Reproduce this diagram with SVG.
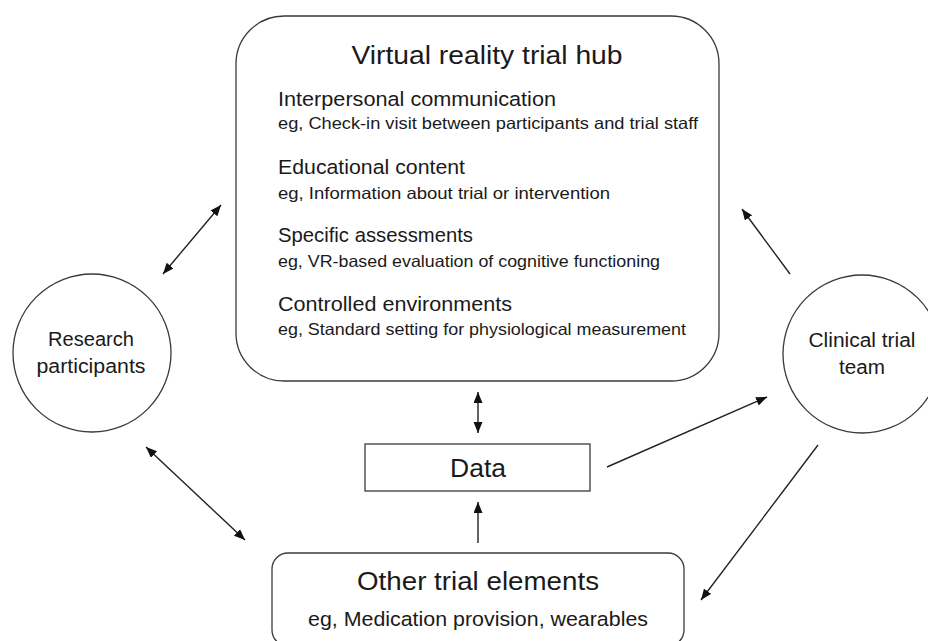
<svg xmlns="http://www.w3.org/2000/svg" width="928" height="641" viewBox="0 0 928 641">
<defs>
<marker id="ah" markerUnits="userSpaceOnUse" markerWidth="12" markerHeight="10" refX="11" refY="4.5" orient="auto-start-reverse">
<path d="M0,0 L11,4.5 L0,9 z" fill="#111"/>
</marker>
<style>
.shape{fill:#fff;stroke:#3a3a3a;stroke-width:1.3}
.conn{stroke:#222;stroke-width:1.4;fill:none}
text{font-family:"Liberation Sans",Arial,sans-serif;fill:#1a1a1a}
.title{font-size:25px}
.head{font-size:20.5px}
.eg{font-size:16.5px}
.circ{font-size:20px;text-anchor:middle}
.mid{text-anchor:middle}
</style>
</defs>
<rect width="928" height="641" fill="#fff"/>
<g id="connectors">
<line class="conn" x1="163" y1="274" x2="221" y2="205" marker-start="url(#ah)" marker-end="url(#ah)"/>
<line class="conn" x1="146" y1="447" x2="245" y2="540" marker-start="url(#ah)" marker-end="url(#ah)"/>
<line class="conn" x1="478" y1="392" x2="478" y2="433" marker-start="url(#ah)" marker-end="url(#ah)"/>
<line class="conn" x1="478" y1="543" x2="478" y2="502" marker-end="url(#ah)"/>
<line class="conn" x1="607" y1="467" x2="767" y2="397" marker-end="url(#ah)"/>
<line class="conn" x1="790" y1="274" x2="742" y2="209" marker-end="url(#ah)"/>
<line class="conn" x1="818" y1="445" x2="701" y2="600" marker-end="url(#ah)"/>
</g>
<g id="vr-hub">
<rect class="shape" x="236" y="16" width="483" height="365" rx="48" ry="48"/>
<text class="title mid" x="487" y="64" textLength="271" lengthAdjust="spacingAndGlyphs">Virtual reality trial hub</text>
<text class="head" x="278" y="106" textLength="278" lengthAdjust="spacingAndGlyphs">Interpersonal communication</text>
<text class="eg" x="278" y="129" textLength="420" lengthAdjust="spacingAndGlyphs">eg, Check-in visit between participants and trial staff</text>
<text class="head" x="278" y="174" textLength="187" lengthAdjust="spacingAndGlyphs">Educational content</text>
<text class="eg" x="278" y="199" textLength="332" lengthAdjust="spacingAndGlyphs">eg, Information about trial or intervention</text>
<text class="head" x="278" y="242" textLength="195" lengthAdjust="spacingAndGlyphs">Specific assessments</text>
<text class="eg" x="278" y="267" textLength="382" lengthAdjust="spacingAndGlyphs">eg, VR-based evaluation of cognitive functioning</text>
<text class="head" x="278" y="311" textLength="234" lengthAdjust="spacingAndGlyphs">Controlled environments</text>
<text class="eg" x="278" y="335" textLength="408" lengthAdjust="spacingAndGlyphs">eg, Standard setting for physiological measurement</text>
</g>
<g id="research-participants">
<circle class="shape" cx="92" cy="353" r="79"/>
<text class="circ" x="91" y="346" textLength="86" lengthAdjust="spacingAndGlyphs">Research</text>
<text class="circ" x="91" y="373" textLength="109" lengthAdjust="spacingAndGlyphs">participants</text>
</g>
<g id="clinical-trial-team">
<circle class="shape" cx="862" cy="354" r="79"/>
<text class="circ" x="862" y="347" textLength="107" lengthAdjust="spacingAndGlyphs">Clinical trial</text>
<text class="circ" x="862" y="374" textLength="46" lengthAdjust="spacingAndGlyphs">team</text>
</g>
<g id="data">
<rect class="shape" x="365" y="444" width="225" height="47"/>
<text class="mid" x="478" y="477" font-size="25" textLength="56" lengthAdjust="spacingAndGlyphs">Data</text>
</g>
<g id="other-trial-elements">
<rect class="shape" x="272" y="553" width="412" height="93" rx="16" ry="16"/>
<text class="mid" x="478" y="590" font-size="25" textLength="242" lengthAdjust="spacingAndGlyphs">Other trial elements</text>
<text class="mid" x="478" y="626" font-size="20.5" textLength="340" lengthAdjust="spacingAndGlyphs">eg, Medication provision, wearables</text>
</g>
</svg>
